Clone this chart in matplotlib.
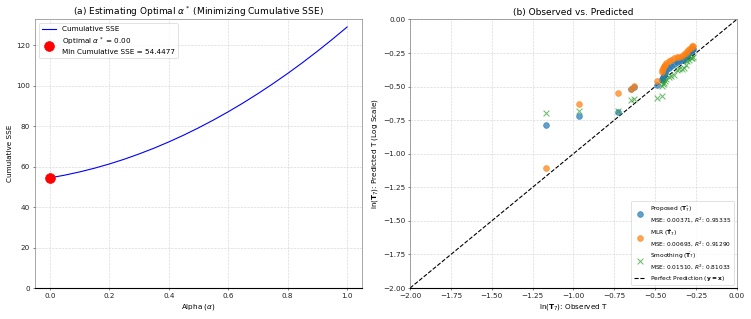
import numpy as np
import matplotlib
matplotlib.use("Agg")
import matplotlib.pyplot as plt

# ---- Panel (a) data ----
alpha_vals = [0.00, 0.05, 0.10, 0.15, 0.20, 0.25, 0.30, 0.35, 0.40, 0.45, 0.50,
              0.55, 0.60, 0.65, 0.70, 0.75, 0.80, 0.85, 0.90, 0.95, 1.00]
cum_sse = [54.45, 55.79, 57.38, 59.22, 61.31, 63.65, 66.26, 69.10, 72.20, 75.55, 79.16,
           83.01, 87.11, 91.46, 96.08, 100.93, 106.04, 111.40, 117.02, 122.89, 129.00]
opt_alpha = 0.00
min_sse = 54.4477

# ---- Panel (b) data ----
obs_ln = [-1.168, -0.964, -0.728, -0.650, -0.630, -0.491, -0.456, -0.455, -0.452, -0.448,
          -0.440, -0.430, -0.415, -0.400, -0.385, -0.368, -0.352, -0.338, -0.325, -0.312,
          -0.302, -0.292, -0.283, -0.275, -0.268]
pred_proposed = [-0.783, -0.719, -0.686, -0.518, -0.505, -0.486, -0.452, -0.440, -0.425, -0.410,
                 -0.395, -0.380, -0.365, -0.350, -0.335, -0.320, -0.312, -0.305, -0.292, -0.280,
                 -0.262, -0.250, -0.238, -0.225, -0.218]
pred_mlr = [-1.103, -0.627, -0.550, -0.515, -0.498, -0.461, -0.392, -0.375, -0.365, -0.350,
            -0.338, -0.325, -0.308, -0.300, -0.290, -0.282, -0.278, -0.272, -0.258, -0.248,
            -0.236, -0.222, -0.210, -0.201, -0.198]
pred_smooth = [-0.697, -0.684, -0.679, -0.602, -0.594, -0.582, -0.567, -0.496, -0.480, -0.470,
               -0.455, -0.440, -0.430, -0.420, -0.410, -0.380, -0.372, -0.368, -0.360, -0.340,
               -0.310, -0.300, -0.290, -0.285, -0.280]
labels_b = ["Proposed ($\\mathbf{T}^{*}_{7}$)\nMSE: 0.00371, $R^2$: 0.95335",
            "MLR ($\\hat{\\mathbf{T}}_{7}$)\nMSE: 0.00693, $R^2$: 0.91290",
            "Smoothing ($\\tilde{\\mathbf{T}}_{7}$)\nMSE: 0.01510, $R^2$: 0.81033",
            "Perfect Prediction ($\\mathbf{y = x}$)"]

fig = plt.figure(figsize=(15.02, 6.38), dpi=50)
ax1 = fig.add_axes([0.0466, 0.097, 0.4354, 0.842])
ax2 = fig.add_axes([0.546, 0.097, 0.435, 0.842])

def style(ax):
    ax.grid(True, linestyle='--', color='#cccccc', linewidth=0.9, alpha=0.8)
    ax.set_axisbelow(True)
    for s in ['top', 'right', 'left']:
        ax.spines[s].set_color('#666666')
    ax.spines['bottom'].set_color('black')
    ax.spines['bottom'].set_linewidth(1.6)
    ax.tick_params(labelsize=10.5, colors='#222222')

# Panel (a)
ax1.plot(alpha_vals, cum_sse, color='blue', linewidth=1.6, label='Cumulative SSE')
ax1.scatter([opt_alpha], [min_sse], color='red', s=200, zorder=5,
            label=f'Optimal $\\alpha^*$ = {opt_alpha:.2f}\nMin Cumulative SSE = {min_sse:.4f}')
ax1.set_ylim(bottom=0)
ax1.set_title('(a) Estimating Optimal $\\alpha^*$ (Minimizing Cumulative SSE)', fontsize=13)
ax1.set_xlabel('Alpha ($\\alpha$)', fontsize=10.5)
ax1.set_ylabel('Cumulative SSE', fontsize=10.5)
ax1.legend(loc='upper left', fontsize=10.5)
style(ax1)

# Panel (b)
ax2.scatter(obs_ln, pred_proposed, color='tab:blue', alpha=0.7, s=70, label=labels_b[0], zorder=3)
ax2.scatter(obs_ln, pred_mlr, color='tab:orange', alpha=0.7, s=70, label=labels_b[1], zorder=3)
ax2.scatter(obs_ln, pred_smooth, color='tab:green', alpha=0.7, s=70, marker='x', label=labels_b[2], zorder=3)
ax2.plot([-2, 0], [-2, 0], 'k--', linewidth=1.6, label=labels_b[3])
ax2.set_xlim(-2, 0)
ax2.set_ylim(-2, 0)
ax2.set_title('(b) Observed vs. Predicted', fontsize=13)
ax2.set_xlabel('ln($\\mathbf{T}_7$): Observed T', fontsize=10.5)
ax2.set_ylabel('ln($\\mathbf{T}_7$): Predicted T (Log Scale)', fontsize=10.5)
ax2.legend(loc='lower right', fontsize=8.5)
style(ax2)

fig.savefig('out.png', dpi=50)
